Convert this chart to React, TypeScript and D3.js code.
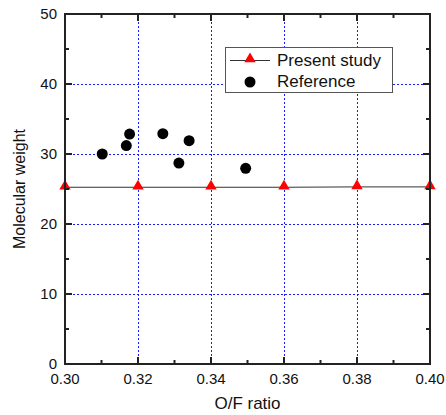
import React from "react";
import * as d3 from "d3";

const presentX = [0.30, 0.32, 0.34, 0.36, 0.38, 0.40];
const presentY = [25.25, 25.25, 25.25, 25.25, 25.3, 25.3];
const refX = [0.3102, 0.3168, 0.3177, 0.3268, 0.3312, 0.334, 0.3495];
const refY = [30.0, 31.2, 32.85, 32.9, 28.7, 31.9, 27.95];
const xTicks = [0.30, 0.32, 0.34, 0.36, 0.38, 0.40];
const xMinor = [0.31, 0.33, 0.35, 0.37, 0.39];
const yTicks = [0, 10, 20, 30, 40, 50];
const yMinor = [5, 15, 25, 35, 45];
const seriesNames = ["Present study", "Reference"];

const W = 446, H = 415;
const L = 65, R = 430, T = 14, B = 364;
const FONT = "Liberation Sans, Arial, sans-serif";

export default function App() {
  const x = d3.scaleLinear().domain([0.30, 0.40]).range([L, R]);
  const y = d3.scaleLinear().domain([0, 50]).range([B, T]);
  const line = d3.line<number>().x((_, i) => x(presentX[i])).y((d) => y(d));
  const tri = d3.symbol().type(d3.symbolTriangle).size(56)();
  const grid = "#1a1aff";
  return (
    <svg width={W} height={H} style={{ position: "absolute", left: 0, top: 0 }}>
      <rect width={W} height={H} fill="#fff" />
      {xTicks.slice(1, -1).map((t) => (
        <line key={"gx" + t} x1={Math.round(x(t)) + 0.5} x2={Math.round(x(t)) + 0.5} y1={T} y2={B} stroke={grid} strokeWidth={1} strokeDasharray="2,2" />
      ))}
      {yTicks.slice(1, -1).map((t) => (
        <line key={"gy" + t} x1={L} x2={R} y1={Math.round(y(t)) + 0.5} y2={Math.round(y(t)) + 0.5} stroke={grid} strokeWidth={1} strokeDasharray="2,2" />
      ))}
      <path d={line(presentY) || ""} fill="none" stroke="#333" strokeWidth={1} />
      {presentY.map((v, i) => (
        <path key={"t" + i} d={tri || ""} transform={`translate(${x(presentX[i])},${y(v) - 1})`} fill="#ff0000" />
      ))}
      {refY.map((v, i) => (
        <circle key={"c" + i} cx={x(refX[i])} cy={y(v)} r={5.5} fill="#000" />
      ))}
      <rect x={L} y={T} width={R - L} height={B - T} fill="none" stroke="#222" strokeWidth={2} />
      {xTicks.map((t) => (
        <g key={"xt" + t}>
          <line x1={x(t)} x2={x(t)} y1={B} y2={B - 7} stroke="#222" strokeWidth={2} />
          <line x1={x(t)} x2={x(t)} y1={T} y2={T + 7} stroke="#222" strokeWidth={2} />
          <text x={x(t)} y={384} textAnchor="middle" fontSize={15} fontFamily={FONT} fill="#111">{t.toFixed(2)}</text>
        </g>
      ))}
      {xMinor.map((t) => (
        <g key={"xm" + t}>
          <line x1={x(t)} x2={x(t)} y1={B} y2={B - 4} stroke="#222" strokeWidth={2} />
          <line x1={x(t)} x2={x(t)} y1={T} y2={T + 4} stroke="#222" strokeWidth={2} />
        </g>
      ))}
      {yTicks.map((t) => (
        <g key={"yt" + t}>
          <line x1={L} x2={L + 7} y1={y(t)} y2={y(t)} stroke="#222" strokeWidth={2} />
          <line x1={R} x2={R - 7} y1={y(t)} y2={y(t)} stroke="#222" strokeWidth={2} />
          <text x={57} y={y(t) + 4.5} textAnchor="end" fontSize={15} fontFamily={FONT} fill="#111">{t}</text>
        </g>
      ))}
      {yMinor.map((t) => (
        <g key={"ym" + t}>
          <line x1={L} x2={L + 4} y1={y(t)} y2={y(t)} stroke="#222" strokeWidth={2} />
          <line x1={R} x2={R - 4} y1={y(t)} y2={y(t)} stroke="#222" strokeWidth={2} />
        </g>
      ))}
      <text x={(L + R) / 2} y={409} textAnchor="middle" fontSize={17} fontFamily={FONT} fill="#111">O/F ratio</text>
      <text transform={`translate(25,${(T + B) / 2}) rotate(-90)`} textAnchor="middle" fontSize={16} fontFamily={FONT} fill="#111">Molecular weight</text>
      <rect x={225.5} y={47.5} width={167} height={45} fill="#fff" stroke="#555" strokeWidth={1} />
      <line x1={230} x2={270} y1={60.5} y2={60.5} stroke="#333" strokeWidth={1} />
      <path d={tri || ""} transform="translate(250,59)" fill="#ff0000" />
      <text x={277} y={66} fontSize={17} fontFamily={FONT} fill="#111">{seriesNames[0]}</text>
      <circle cx={250} cy={82} r={5.5} fill="#000" />
      <text x={277} y={87} fontSize={17} fontFamily={FONT} fill="#111">{seriesNames[1]}</text>
    </svg>
  );
}
